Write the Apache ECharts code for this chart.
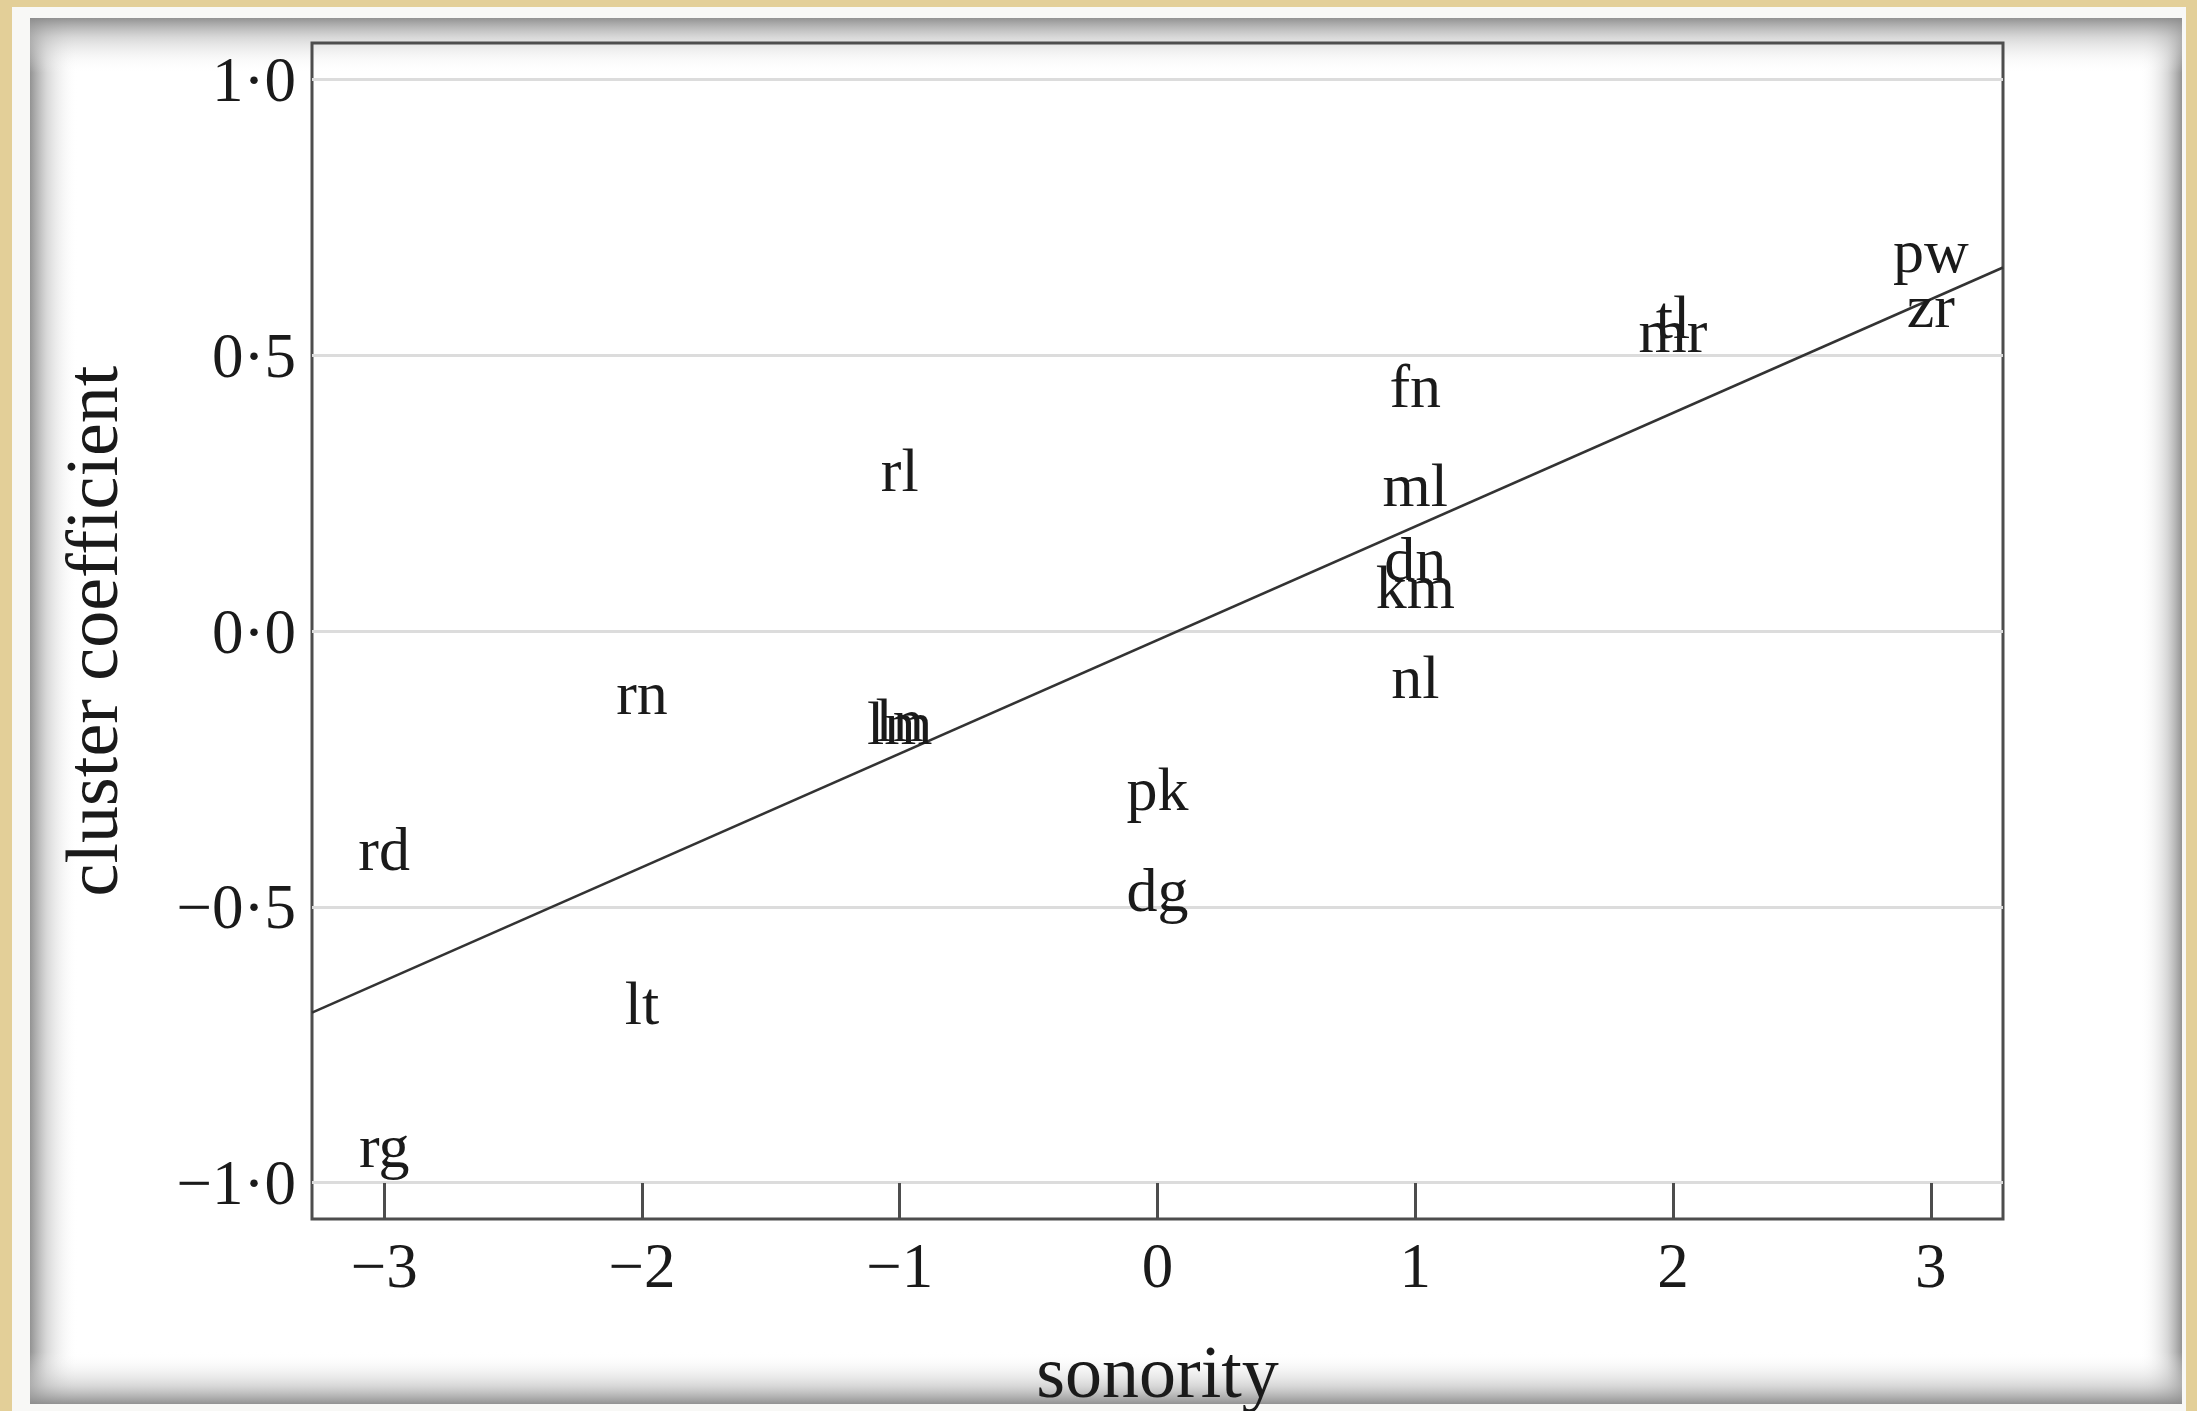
<!DOCTYPE html>
<html>
<head>
<meta charset="utf-8">
<script src="https://cdn.jsdelivr.net/npm/echarts@6.0.0/dist/echarts.min.js"></script>
<style>
html, body { margin: 0; padding: 0; background: #e3cf98; }
#main { width: 2197px; height: 1411px; }
</style>
</head>
<body>
<div id="main"></div>
<script>
// 数据：辅音组合、响度差、聚类系数
var clusters = ['pw', 'zr', 'tl', 'mr', 'fn', 'ml', 'dn', 'km', 'nl', 'rl', 'rn', 'ln', 'lm', 'pk', 'dg', 'rd', 'lt', 'rg'];
var sonority = [3, 3, 2, 2, 1, 1, 1, 1, 1, -1, -2, -1, -1, 0, 0, -3, -2, -3];
var coefficient = [0.681, 0.580, 0.561, 0.536, 0.436, 0.257, 0.122, 0.071, -0.092, 0.283, -0.121, -0.170, -0.176, -0.295, -0.478, -0.404, -0.683, -0.942];
// 回归线两端
var fitX = [-3.28, 3.28];
var fitY = [-0.692, 0.659];
var xTicks = [-3, -2, -1, 0, 1, 2, 3];
var yTicks = [-1, -0.5, 0, 0.5, 1];

var serif = "'Liberation Serif', 'DejaVu Serif', serif";
var ink = '#1a1a1a';

var points = [];
for (var i = 0; i < clusters.length; i++) {
    points.push({ name: clusters[i], value: [sonority[i], coefficient[i]] });
}
var fitLine = [];
for (var j = 0; j < fitX.length; j++) {
    fitLine.push([fitX[j], fitY[j]]);
}

function fmtY(v) {
    return Number(v).toFixed(1).replace('.', '\u00b7').replace('-', '\u2212');
}
function fmtX(v) {
    return String(v).replace('-', '\u2212');
}
function edge(x0, y0, x1, y1) {
    return new echarts.graphic.LinearGradient(x0, y0, x1, y1, [
        { offset: 0, color: 'rgba(140,140,140,0.95)' },
        { offset: 0.35, color: 'rgba(190,190,190,0.6)' },
        { offset: 1, color: 'rgba(255,255,255,0)' }
    ]);
}

var myChart = echarts.init(document.getElementById('main'));
var option = {
    backgroundColor: 'transparent',
    animation: false,
    // 纸张背景
    graphic: [
        { type: 'rect', z: -30, shape: { x: 12, y: 7, width: 2174, height: 1404 }, style: { fill: '#f8f8f6' } },
        { type: 'rect', z: -25, shape: { x: 30, y: 18, width: 2152, height: 1386 }, style: { fill: '#ffffff' } },
        { type: 'rect', z: -20, shape: { x: 30, y: 18, width: 48, height: 1386 }, style: { fill: edge(0, 0, 1, 0) } },
        { type: 'rect', z: -20, shape: { x: 2140, y: 18, width: 42, height: 1386 }, style: { fill: edge(1, 0, 0, 0) } },
        { type: 'rect', z: -20, shape: { x: 30, y: 18, width: 2152, height: 55 }, style: { fill: edge(0, 0, 0, 1) } },
        { type: 'rect', z: -20, shape: { x: 30, y: 1352, width: 2152, height: 52 }, style: { fill: edge(0, 1, 0, 0) } }
    ],
    grid: {
        left: 312, top: 43, right: 194, bottom: 192,
        outerBoundsMode: 'none',
        show: true,
        borderColor: '#4d4d4d',
        borderWidth: 3,
        backgroundColor: 'transparent'
    },
    xAxis: {
        type: 'value',
        min: -3.28,
        max: 3.28,
        name: 'sonority',
        nameLocation: 'middle',
        nameGap: 122,
        nameTextStyle: { fontFamily: serif, fontSize: 74, color: ink },
        axisLine: { show: false, onZero: false },
        axisTick: { show: true, inside: true, length: 36, customValues: xTicks, lineStyle: { color: '#4d4d4d', width: 3 } },
        axisLabel: { customValues: xTicks, formatter: fmtX, margin: 20, fontFamily: serif, fontSize: 63, color: ink },
        splitLine: { show: false }
    },
    yAxis: {
        type: 'value',
        min: -1.066,
        max: 1.066,
        name: 'cluster coefficient',
        nameLocation: 'middle',
        nameGap: 177,
        nameTextStyle: { fontFamily: serif, fontSize: 74, color: ink },
        axisLine: { show: false, onZero: false },
        axisTick: { show: false, customValues: yTicks },
        axisLabel: {
            customValues: yTicks, formatter: fmtY, margin: 16,
            verticalAlign: 'top', lineHeight: 10,
            fontFamily: serif, fontSize: 63, color: ink
        },
        splitLine: { show: true, lineStyle: { color: '#dcdcdc', width: 3 } }
    },
    series: [
        {
            type: 'line',
            data: fitLine,
            showSymbol: false,
            lineStyle: { color: '#333', width: 2.5 },
            z: 3
        },
        {
            type: 'scatter',
            data: points,
            symbolSize: 1,
            itemStyle: { color: 'rgba(0,0,0,0)' },
            label: {
                show: true,
                position: 'inside',
                formatter: '{b}',
                fontFamily: serif,
                fontSize: 62,
                color: ink,
                opacity: 1,
                textBorderWidth: 0,
                textBorderColor: 'transparent'
            },
            emphasis: { disabled: true },
            z: 4
        }
    ]
};
myChart.setOption(option);
</script>
</body>
</html>
